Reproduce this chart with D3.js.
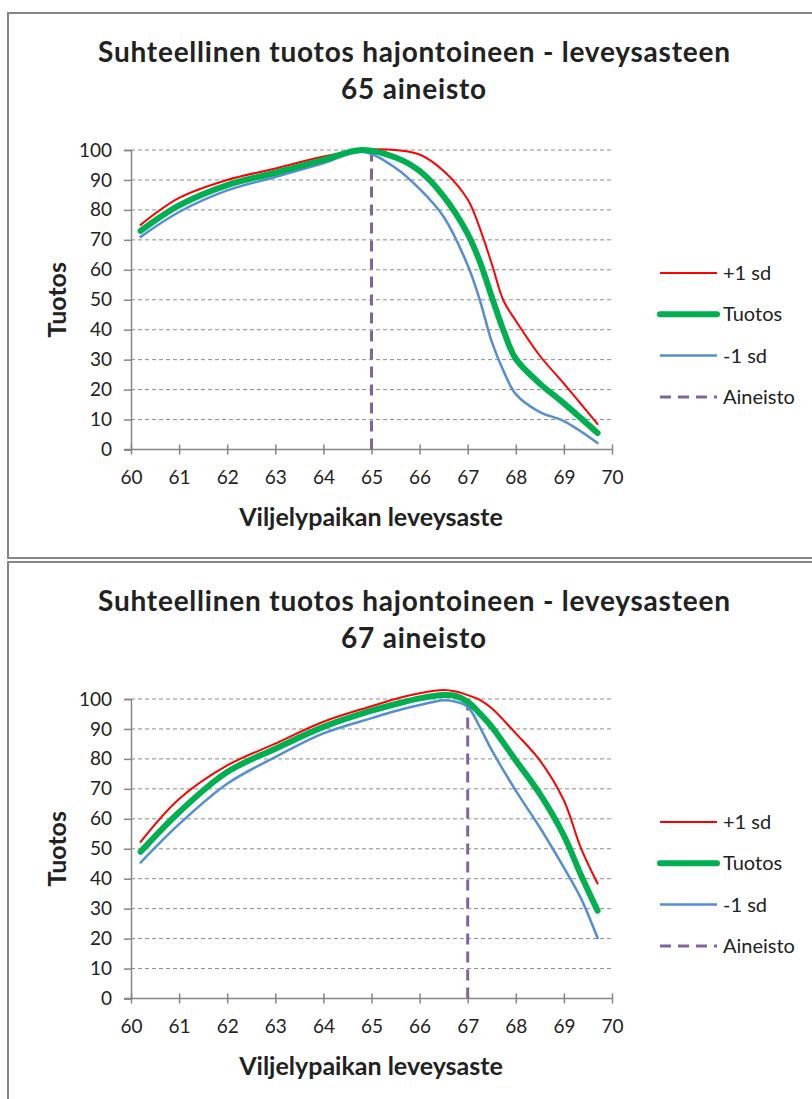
<!DOCTYPE html>
<html>
<head>
<meta charset="utf-8">
<script src="https://cdn.jsdelivr.net/npm/d3@7/dist/d3.min.js"></script>
<style>
  html, body { margin: 0; padding: 0; background: #fff; }
  svg { display: block; }
  text { font-family: Lato, "Open Sans", "Liberation Sans", sans-serif; fill: #222; }
</style>
</head>
<body>
<svg id="chart" width="812" height="1099"></svg>
<script>
// Latitude grid shared by the series of each chart
const latitudes65 = [60.2, 61, 62, 63, 64, 64.8, 65.5, 66, 66.5, 67, 67.25, 67.5, 67.75, 68, 68.5, 69, 69.7];
const upper65  = [75, 84, 90, 93.8, 97.8, 100, 100, 98.5, 93, 83.5, 74, 62, 49.5, 43, 31.3, 22, 8.5];
const yield65  = [73, 81.5, 88.3, 92.4, 96.7, 100, 97.5, 93, 84.5, 72, 62.8, 51, 39.5, 30.3, 22, 15.4, 5.5];
const lower65  = [71, 79.3, 86.5, 91, 95.6, 99.4, 94, 87, 77.7, 61.5, 50, 36, 26, 18.5, 12.5, 9.5, 2.2];
const dataset65 = [65, 0, 100]; // latitude, from, to

const latitudes67 = [60.2, 61, 62, 63, 64, 65, 65.5, 66, 66.5, 66.75, 67, 67.25, 67.5, 68, 68.5, 69, 69.35, 69.7];
const upper67  = [52.3, 66.6, 77.8, 85.1, 92.4, 97.6, 100, 101.9, 103, 102.5, 101.3, 99.7, 96.9, 88.5, 79.5, 66.1, 50.4, 38.4];
const yield67  = [49, 62.2, 75.6, 83.4, 90.7, 96.1, 98.3, 100.2, 101.3, 101, 99.1, 95.2, 90.7, 79.5, 68.3, 54.4, 41.4, 29.3];
const lower67  = [45.4, 58.2, 71.7, 80.6, 88.5, 93.6, 96, 98, 99.6, 99.1, 97.4, 90.7, 82.9, 69.4, 57.1, 43.7, 33.6, 20.2];
const dataset67 = [67, 0, 102];

const xTicks = [60, 61, 62, 63, 64, 65, 66, 67, 68, 69, 70];
const yTicks = [0, 10, 20, 30, 40, 50, 60, 70, 80, 90, 100];
const titleLine1 = "Suhteellinen tuotos hajontoineen - leveysasteen";
const xTitle = "Viljelypaikan leveysaste";
const yTitle = "Tuotos";
const legendLabels = ["+1 sd", "Tuotos", "-1 sd", "Aineisto"];

const COLORS = { upper: "#ff0000", yield: "#00b050", lower: "#558ed5", dataset: "#8064a2" };

const svg = d3.select("#chart");

function drawPanel(top, panel) {
  const g = svg.append("g").attr("transform", `translate(0,${top})`);

  // panel frame
  g.append("rect")
    .attr("x", 8).attr("y", 0).attr("width", 840).attr("height", panel.frameH)
    .attr("fill", "none").attr("stroke", "#858585").attr("stroke-width", 2);

  const x = d3.scaleLinear().domain([60, 70]).range([131, 612]);
  const y = d3.scaleLinear().domain([0, 100]).range([436.5, 137]);

  // title
  g.append("text").attr("x", 414).attr("y", 49).attr("text-anchor", "middle")
    .attr("textLength", 632).attr("lengthAdjust", "spacing")
    .style("font-size", "28px").style("font-weight", "bold").text(titleLine1);
  g.append("text").attr("x", 414).attr("y", 86).attr("text-anchor", "middle")
    .style("letter-spacing", "0.8px")
    .style("font-size", "28px").style("font-weight", "bold").text(panel.title2);

  // horizontal dashed grid
  g.append("g").selectAll("line").data(yTicks.filter(d => d > 0)).join("line")
    .attr("x1", x(60)).attr("x2", x(70))
    .attr("y1", d => y(d)).attr("y2", d => y(d))
    .attr("stroke", "#8c8c8c").attr("stroke-width", 1).attr("stroke-dasharray", "4,3");

  // y axis
  const yAxis = g.append("g").attr("transform", `translate(${x(60)},0)`)
    .call(d3.axisLeft(y).tickValues(yTicks).tickSize(7).tickPadding(12));
  yAxis.select(".domain").attr("stroke", "#868686").attr("stroke-width", 1.5);
  yAxis.selectAll(".tick line").attr("stroke", "#868686").attr("stroke-width", 1.5);
  yAxis.selectAll("text").style("font-size", "19px").attr("fill", "#222")
    .style("font-family", "Lato, 'Open Sans', sans-serif");

  // x axis with ticks crossing the line
  const xAxis = g.append("g").attr("transform", `translate(0,${y(0)})`)
    .call(d3.axisBottom(x).tickValues(xTicks).tickSizeInner(5).tickSizeOuter(0).tickPadding(16));
  xAxis.select(".domain").attr("stroke", "#868686").attr("stroke-width", 1.5)
    .attr("d", `M${x(60) - 7},0H${x(70)}`);
  xAxis.selectAll(".tick line").attr("stroke", "#868686").attr("stroke-width", 1.5)
    .attr("y1", -5).attr("y2", 5);
  xAxis.selectAll("text").style("font-size", "19px").attr("fill", "#222")
    .style("font-family", "Lato, 'Open Sans', sans-serif");

  // axis titles
  g.append("text").attr("x", 371).attr("y", 513).attr("text-anchor", "middle")
    .style("font-size", "25px").style("font-weight", "bold").text(xTitle);
  g.append("text").attr("transform", `translate(66,${y(50)}) rotate(-90)`)
    .attr("text-anchor", "middle").style("font-size", "25px").style("font-weight", "bold").text(yTitle);

  // dataset latitude marker
  const [lat, from, to] = panel.dataset;
  g.append("line")
    .attr("x1", x(lat)).attr("x2", x(lat)).attr("y1", y(from)).attr("y2", y(to))
    .attr("stroke", COLORS.dataset).attr("stroke-width", 3).attr("stroke-dasharray", "11,7");

  const line = d3.line().curve(d3.curveCatmullRom.alpha(0.5));
  const series = [
    { vals: panel.upper, color: COLORS.upper, w: 2 },
    { vals: panel.lower, color: COLORS.lower, w: 2.5 },
    { vals: panel.yield, color: COLORS.yield, w: 6 }
  ];
  series.forEach(s => {
    g.append("path")
      .attr("d", line(panel.lats.map((l, i) => [x(l), y(s.vals[i])])))
      .attr("fill", "none").attr("stroke", s.color).attr("stroke-width", s.w)
      .attr("stroke-linecap", "round").attr("stroke-linejoin", "round");
  });

  // legend
  const legendStyles = [
    { color: COLORS.upper, w: 2, dash: null },
    { color: COLORS.yield, w: 6, dash: null },
    { color: COLORS.lower, w: 2.5, dash: null },
    { color: COLORS.dataset, w: 3, dash: "11,7" }
  ];
  const leg = g.append("g");
  legendLabels.forEach((lab, i) => {
    const ly = 260 + i * 41.3;
    const st = legendStyles[i];
    leg.append("line").attr("x1", 660).attr("x2", 717).attr("y1", ly).attr("y2", ly)
      .attr("stroke", st.color).attr("stroke-width", st.w)
      .attr("stroke-linecap", i === 1 ? "round" : "butt")
      .attr("stroke-dasharray", st.dash);
    leg.append("text").attr("x", 723).attr("y", ly).attr("dy", "0.35em")
      .style("font-size", "20px").text(lab);
  });
}

drawPanel(13, { title2: "65 aineisto", frameH: 545, lats: latitudes65,
  upper: upper65, yield: yield65, lower: lower65, dataset: dataset65 });
drawPanel(562, { title2: "67 aineisto", frameH: 560, lats: latitudes67,
  upper: upper67, yield: yield67, lower: lower67, dataset: dataset67 });
</script>
</body>
</html>
